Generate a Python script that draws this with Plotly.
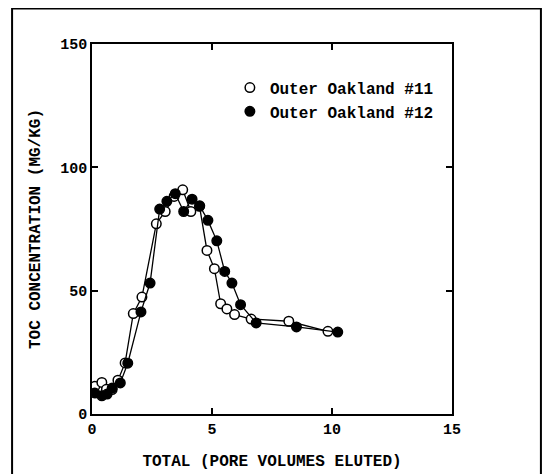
import plotly.graph_objects as go

# Outer Oakland #11 (open circles)
x11 = [0.12, 0.41, 0.6, 0.84, 1.08, 1.38, 1.72, 2.08, 2.68, 3.05, 3.42, 3.78, 4.12, 4.48, 4.79, 5.1, 5.36, 5.62, 5.94, 6.63, 8.2, 9.83]
y11 = [11.2, 12.8, 10.0, 9.9, 13.7, 20.7, 40.7, 47.4, 77.1, 82.1, 88.2, 90.9, 82.1, 84.2, 66.3, 58.9, 44.7, 42.6, 40.3, 38.5, 37.6, 33.5]

# Outer Oakland #12 (filled circles)
x12 = [0.12, 0.41, 0.63, 0.84, 1.18, 1.49, 2.04, 2.42, 2.82, 3.12, 3.47, 3.82, 4.17, 4.49, 4.83, 5.2, 5.53, 5.83, 6.19, 6.84, 8.52, 10.24]
y12 = [8.5, 7.4, 8.1, 10.5, 12.6, 20.6, 41.4, 53.1, 83.1, 86.2, 89.3, 82.1, 87.1, 84.4, 78.5, 70.2, 57.8, 53.1, 44.3, 36.9, 35.3, 33.2]

names = ["Outer Oakland #11", "Outer Oakland #12"]
x_ticks = [0, 5, 10, 15]
y_ticks = [0, 50, 100, 150]

FONT = "Liberation Mono"

fig = go.Figure()

open_marker = dict(symbol="circle", size=9.5, color="white", line=dict(color="black", width=1.5))
fill_marker = dict(symbol="circle", size=9.5, color="black", line=dict(color="black", width=1.5))

fig.add_trace(go.Scatter(x=x11, y=y11, mode="lines+markers", marker=open_marker,
                         line=dict(color="black", width=1.3), showlegend=False))
fig.add_trace(go.Scatter(x=x12, y=y12, mode="lines+markers", marker=fill_marker,
                         line=dict(color="black", width=1.3), showlegend=False))
# legend entries (markers only)
fig.add_trace(go.Scatter(x=[None], y=[None], mode="markers", marker=open_marker, name=names[0]))
fig.add_trace(go.Scatter(x=[None], y=[None], mode="markers", marker=fill_marker, name=names[1]))

axis_common = dict(showline=True, linecolor="black", linewidth=1.5, mirror="ticks",
                   ticks="inside", ticklen=6, tickwidth=1.5, tickcolor="black",
                   showgrid=False, zeroline=False,
                   tickfont=dict(family=FONT, size=15, color="black", weight="bold"))

fig.update_xaxes(range=[0, 15], tickvals=x_ticks, ticktext=[str(v) for v in x_ticks],
                 title=dict(text="TOTAL (PORE VOLUMES ELUTED)", standoff=17,
                            font=dict(family=FONT, size=16, color="black", weight="bold")),
                 **axis_common)
fig.update_yaxes(range=[0, 150], tickvals=y_ticks, ticktext=[str(v) for v in y_ticks],
                 title=dict(text="TOC CONCENTRATION (MG/KG)", standoff=16,
                            font=dict(family=FONT, size=16, color="black", weight="bold")),
                 **axis_common)

fig.add_shape(type="rect", xref="paper", yref="paper",
              x0=-0.222, x1=1.247, y0=-0.25, y1=1.096,
              line=dict(color="black", width=2), fillcolor="rgba(0,0,0,0)", layer="below")

fig.update_layout(
    width=551, height=474,
    margin=dict(l=84, r=107, t=36, b=68, autoexpand=False),
    plot_bgcolor="white", paper_bgcolor="white",
    font=dict(family=FONT, size=15, color="black", weight="bold"),
    legend=dict(x=0.383, y=0.928, xanchor="left", yanchor="top",
                bgcolor="rgba(0,0,0,0)", borderwidth=0,
                font=dict(family=FONT, size=16, color="black", weight="bold"),
                itemwidth=30, tracegroupgap=0),
)

fig.write_html("out.html")
